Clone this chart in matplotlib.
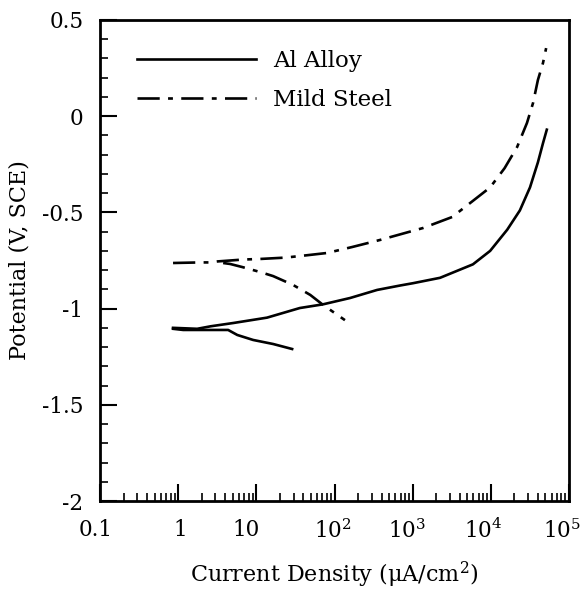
import matplotlib
matplotlib.use("Agg")
import matplotlib.pyplot as plt
from matplotlib.ticker import FixedLocator, LogLocator, MultipleLocator, NullFormatter
from matplotlib.transforms import ScaledTranslation

# ---- data ----
al_anodic_x = [0.86, 1.75, 2.6, 5.05, 13.7, 36, 71, 158, 351, 690, 1010, 2240,
               5900, 9800, 16200, 23500, 31700, 40000, 46500, 52000]
al_anodic_y = [-1.10, -1.105, -1.092, -1.075, -1.047, -0.997, -0.978, -0.945, -0.903,
               -0.880, -0.868, -0.840, -0.77, -0.70, -0.59, -0.49, -0.37, -0.24, -0.14, -0.07]
al_cathodic_x = [0.86, 1.16, 4.36, 5.7, 9.1, 16.4, 28.7]
al_cathodic_y = [-1.105, -1.111, -1.111, -1.137, -1.163, -1.184, -1.21]

steel_anodic_x = [0.86, 1.91, 2.57, 3.15, 4.62, 6.78, 11.2, 23.4, 39.6, 80, 168, 384,
                  1360, 3200, 5900, 9800, 15000, 21700, 29000, 34700, 40000, 46500, 51000]
steel_anodic_y = [-0.763, -0.760, -0.760, -0.755, -0.750, -0.745, -0.742, -0.735, -0.725,
                  -0.711, -0.680, -0.643, -0.581, -0.524, -0.44, -0.37, -0.27, -0.160,
                  -0.035, 0.069, 0.188, 0.277, 0.354]
steel_cathodic_x = [3.76, 4.62, 6.6, 11.2, 16.4, 29.5, 49, 71.5, 136]
steel_cathodic_y = [-0.763, -0.768, -0.784, -0.81, -0.831, -0.877, -0.929, -0.981, -1.06]

x_tick_vals = [0.1, 1, 10, 100, 1000, 10000, 100000]
x_tick_labels = ["0.1", "1", "10", "$10^2$", "$10^3$", "$10^4$", "$10^5$"]
y_tick_vals = [-2, -1.5, -1, -0.5, 0, 0.5]
y_tick_labels = ["-2", "-1.5", "-1", "-0.5", "0", "0.5"]

# ---- style ----
FONT = "DejaVu Serif"
plt.rcParams["font.family"] = [FONT]
plt.rcParams["mathtext.fontset"] = "custom"
plt.rcParams["mathtext.rm"] = FONT
plt.rcParams["mathtext.it"] = FONT
plt.rcParams["lines.scale_dashes"] = False

fig = plt.figure(figsize=(5.83, 5.95), dpi=100)
ax = fig.add_axes([100 / 583, 1 - 501 / 595, 469 / 583, 481 / 595])

lw = 1.9
dashdot = (0, (16, 6, 3.5, 6))

ax.plot(al_anodic_x, al_anodic_y, color="black", lw=lw, label="Al Alloy")
ax.plot(al_cathodic_x, al_cathodic_y, color="black", lw=lw)
ax.plot(steel_anodic_x, steel_anodic_y, color="black", lw=lw, linestyle=dashdot,
        label="Mild Steel")
ax.plot(steel_cathodic_x, steel_cathodic_y, color="black", lw=lw, linestyle=dashdot)

ax.set_xscale("log")
ax.set_xlim(0.1, 1e5)
ax.set_ylim(-2, 0.5)

ax.xaxis.set_major_locator(FixedLocator(x_tick_vals))
ax.set_xticklabels(x_tick_labels)
ax.xaxis.set_minor_locator(LogLocator(base=10, subs=range(2, 10), numticks=20))
ax.xaxis.set_minor_formatter(NullFormatter())
ax.yaxis.set_major_locator(FixedLocator(y_tick_vals))
ax.set_yticklabels(y_tick_labels)
ax.yaxis.set_minor_locator(MultipleLocator(0.1))

ax.tick_params(axis="both", which="major", direction="in", length=12, width=1.5,
               labelsize=15.5, top=False, right=False)
ax.tick_params(axis="both", which="minor", direction="in", length=6, width=1.2,
               top=False, right=False)
ax.tick_params(axis="x", which="major", pad=13)
ax.tick_params(axis="y", which="major", pad=12)
for s in ax.spines.values():
    s.set_linewidth(2)

# small leftward shift of x tick labels, as in the reference
shifts = [-4, 2, -10, -2, -6, -8, -7]
for lab, dx in zip(ax.get_xticklabels(), shifts):
    lab.set_transform(lab.get_transform() + ScaledTranslation(dx / 100, 0, fig.dpi_scale_trans))

ax.set_xlabel("Current Density ($\\mu$A/cm$^2$)", fontsize=16, labelpad=12)
ax.set_ylabel("Potential (V, SCE)", fontsize=16, labelpad=8)

leg = ax.legend(loc="upper left", bbox_to_anchor=(37 / 469, 0.937), frameon=False,
                fontsize=16.5, handlelength=5.2, handletextpad=0.72, labelspacing=0.75,
                borderpad=0, borderaxespad=0)

fig.savefig("out.png", dpi=100)
